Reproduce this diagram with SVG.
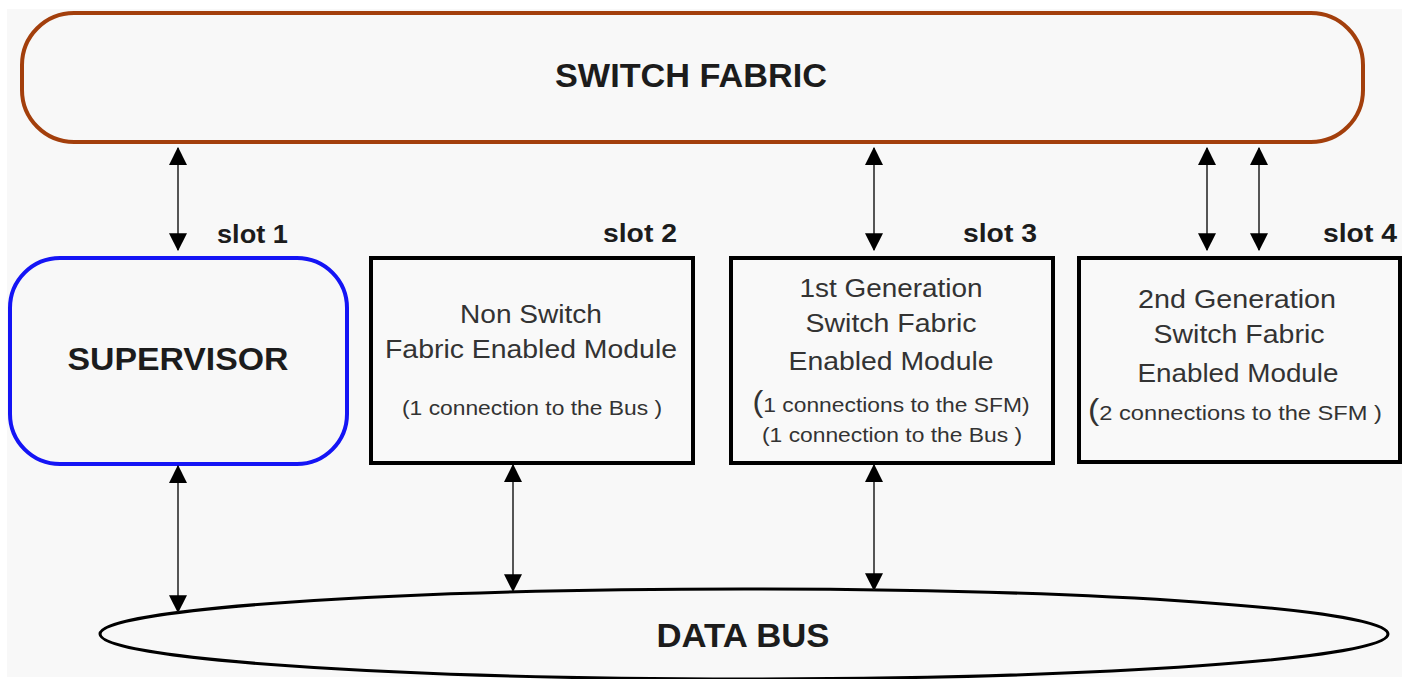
<svg xmlns="http://www.w3.org/2000/svg" width="1409" height="679" viewBox="0 0 1409 679">
  <style>
    .bold { font-family: "Liberation Sans", Arial, sans-serif; font-weight: bold; fill: #1c1c1c; }
    .reg { font-family: "Liberation Sans", Arial, sans-serif; fill: #333333; }
    .box { fill: #f9f9f9; stroke: #000000; stroke-width: 4; }
    .conn { stroke: #555555; stroke-width: 2; fill: none; marker-start: url(#ah); marker-end: url(#ah); }
  </style>
  <defs>
    <marker id="ah" markerUnits="userSpaceOnUse" markerWidth="18" markerHeight="18" viewBox="0 0 16 16" refX="15" refY="8" orient="auto-start-reverse">
      <path d="M0,0 L16,8 L0,16 Z" fill="#000000"/>
    </marker>
  </defs>
  <rect x="0" y="0" width="1409" height="679" fill="#ffffff"/>
  <rect x="7" y="9" width="1395" height="668" fill="#f8f8f8"/>

  <g id="switch-fabric">
    <rect x="22" y="13" width="1341" height="129" rx="52" ry="52" fill="#f8f8f8" stroke="#a33f0c" stroke-width="4"/>
    <text class="bold" x="691" y="87" font-size="34" text-anchor="middle" textLength="272" lengthAdjust="spacingAndGlyphs">SWITCH FABRIC</text>
  </g>

  <g id="data-bus">
    <ellipse cx="744" cy="634" rx="644" ry="45" fill="#f8f8f8" stroke="#000000" stroke-width="3"/>
    <text class="bold" x="743" y="647" font-size="33" text-anchor="middle" textLength="173" lengthAdjust="spacingAndGlyphs">DATA BUS</text>
  </g>

  <g id="supervisor">
    <rect x="10" y="258" width="337" height="206" rx="50" ry="50" fill="#f8f8f8" stroke="#1414f5" stroke-width="4"/>
    <text class="bold" x="178" y="370" font-size="32" text-anchor="middle" textLength="221" lengthAdjust="spacingAndGlyphs">SUPERVISOR</text>
    <text class="bold" x="217" y="243" font-size="26" textLength="71" lengthAdjust="spacingAndGlyphs">slot 1</text>
  </g>

  <g id="slot2">
    <rect class="box" x="371" y="258" width="322" height="205"/>
    <text class="bold" x="603" y="242" font-size="26" textLength="74" lengthAdjust="spacingAndGlyphs">slot 2</text>
    <text class="reg" x="531" y="323" font-size="25" text-anchor="middle" textLength="142" lengthAdjust="spacingAndGlyphs">Non Switch</text>
    <text class="reg" x="531" y="358" font-size="25" text-anchor="middle" textLength="292" lengthAdjust="spacingAndGlyphs">Fabric Enabled Module</text>
    <text class="reg" x="532" y="415" font-size="21" text-anchor="middle" textLength="260" lengthAdjust="spacingAndGlyphs">(1 connection to the Bus )</text>
  </g>

  <g id="slot3">
    <rect class="box" x="731" y="258" width="322" height="205"/>
    <text class="bold" x="963" y="242" font-size="26" textLength="74" lengthAdjust="spacingAndGlyphs">slot 3</text>
    <text class="reg" x="891" y="297" font-size="25" text-anchor="middle" textLength="183" lengthAdjust="spacingAndGlyphs">1st Generation</text>
    <text class="reg" x="891" y="332" font-size="25" text-anchor="middle" textLength="171" lengthAdjust="spacingAndGlyphs">Switch Fabric</text>
    <text class="reg" x="891" y="370" font-size="25" text-anchor="middle" textLength="205" lengthAdjust="spacingAndGlyphs">Enabled Module</text>
    <text class="reg" x="891" y="412" font-size="21" text-anchor="middle" textLength="277" lengthAdjust="spacingAndGlyphs"><tspan font-size="30">(</tspan>1 connections to the SFM)</text>
    <text class="reg" x="892" y="442" font-size="21" text-anchor="middle" textLength="260" lengthAdjust="spacingAndGlyphs">(1 connection to the Bus )</text>
  </g>

  <g id="slot4">
    <rect class="box" x="1079" y="258" width="321" height="204"/>
    <text class="bold" x="1323" y="242" font-size="26" textLength="74" lengthAdjust="spacingAndGlyphs">slot 4</text>
    <text class="reg" x="1237" y="308" font-size="25" text-anchor="middle" textLength="198" lengthAdjust="spacingAndGlyphs">2nd Generation</text>
    <text class="reg" x="1239" y="343" font-size="25" text-anchor="middle" textLength="171" lengthAdjust="spacingAndGlyphs">Switch Fabric</text>
    <text class="reg" x="1238" y="382" font-size="25" text-anchor="middle" textLength="201" lengthAdjust="spacingAndGlyphs">Enabled Module</text>
    <text class="reg" x="1235" y="420" font-size="21" text-anchor="middle" textLength="294" lengthAdjust="spacingAndGlyphs"><tspan font-size="30">(</tspan>2 connections to the SFM )</text>
  </g>

  <g id="connectors">
    <line class="conn" x1="178" y1="148" x2="178" y2="250"/>
    <line class="conn" x1="874" y1="148" x2="874" y2="250"/>
    <line class="conn" x1="1207" y1="148" x2="1207" y2="250"/>
    <line class="conn" x1="1259" y1="148" x2="1259" y2="250"/>
    <line class="conn" x1="178" y1="466" x2="178" y2="612"/>
    <line class="conn" x1="513" y1="465" x2="513" y2="591"/>
    <line class="conn" x1="874" y1="465" x2="874" y2="590"/>
  </g>
</svg>
